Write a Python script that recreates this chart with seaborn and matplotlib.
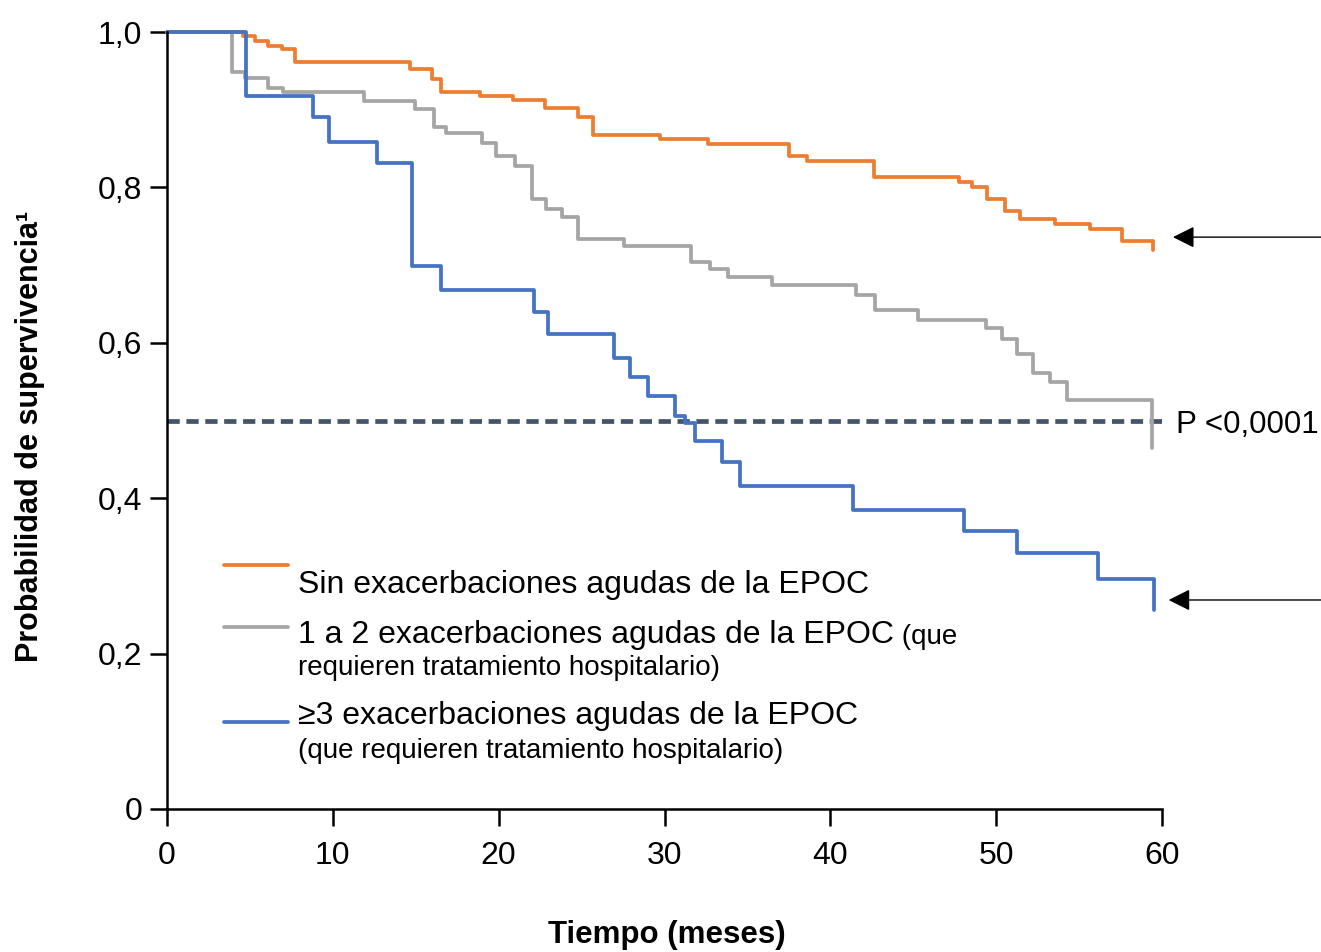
import matplotlib
matplotlib.use("Agg")
import matplotlib.pyplot as plt
import numpy as np
import pandas as pd
import seaborn as sns

# Kaplan-Meier steps (meses, probabilidad tras el salto)
t_sin = [0, 4.58, 5.31, 6.07, 6.92, 7.72, 14.65, 15.96, 16.52, 18.87, 20.85, 22.79,
         24.77, 25.67, 29.73, 32.64, 37.53, 38.58, 42.63, 47.76, 48.56, 49.47,
         50.53, 51.44, 53.55, 55.66, 57.57, 59.48]
v_sin = [1.0, 0.995, 0.988, 0.982, 0.978, 0.962, 0.953, 0.940, 0.923, 0.918, 0.912, 0.902,
         0.891, 0.868, 0.862, 0.856, 0.840, 0.834, 0.813, 0.807, 0.801, 0.785,
         0.769, 0.759, 0.753, 0.746, 0.731, 0.720]

t_1a2 = [0, 3.90, 4.70, 6.11, 6.98, 11.88, 14.96, 16.12, 16.82, 19.01, 19.82, 20.99,
         21.99, 22.84, 23.80, 24.77, 27.58, 31.60, 32.74, 33.81, 36.48, 41.55,
         42.69, 45.27, 49.39, 50.33, 51.24, 52.24, 53.25, 54.25, 59.38]
v_1a2 = [1.0, 0.948, 0.941, 0.928, 0.923, 0.911, 0.901, 0.878, 0.870, 0.857, 0.840, 0.828,
         0.785, 0.772, 0.762, 0.733, 0.724, 0.704, 0.695, 0.685, 0.674, 0.662,
         0.642, 0.629, 0.619, 0.605, 0.585, 0.561, 0.550, 0.527, 0.465]

t_3mas = [0, 4.76, 8.82, 9.77, 12.68, 14.76, 16.52, 22.15, 22.96, 26.97, 27.92, 29.02,
          30.63, 31.24, 31.81, 33.45, 34.55, 41.35, 48.08, 51.24, 56.12, 59.54]
v_3mas = [1.0, 0.917, 0.891, 0.858, 0.832, 0.699, 0.668, 0.639, 0.611, 0.580, 0.556, 0.531,
          0.506, 0.497, 0.473, 0.446, 0.416, 0.385, 0.358, 0.330, 0.296, 0.256]

grupos = ["sin", "1a2", "3mas"]
colores = {"sin": "#ED7D31", "1a2": "#A5A5A5", "3mas": "#4472C4"}

y_ticks = [0, 0.2, 0.4, 0.6, 0.8, 1.0]
y_ticklabels = ["0", "0,2", "0,4", "0,6", "0,8", "1,0"]
x_ticks = [0, 10, 20, 30, 40, 50, 60]

mediana = 0.5
fin_linea = 60.35
p_texto = "P <0,0001"
p_pos = (60.85, 0.494)
flecha_sin = 0.736
flecha_3mas = 0.269

df = pd.concat([
    pd.DataFrame({"t": t_sin, "v": v_sin, "grupo": "sin"}),
    pd.DataFrame({"t": t_1a2, "v": v_1a2, "grupo": "1a2"}),
    pd.DataFrame({"t": t_3mas, "v": v_3mas, "grupo": "3mas"}),
])

sns.set_style("ticks")
plt.rcParams["font.family"] = ["Liberation Sans", "DejaVu Sans"]
plt.rcParams["text.color"] = "black"
plt.rcParams["axes.labelcolor"] = "black"
plt.rcParams["xtick.color"] = "black"
plt.rcParams["ytick.color"] = "black"

W, H = 1321, 952
fig = plt.figure(figsize=(W / 100, H / 100), dpi=100)
ax = fig.add_axes([167 / W, (H - 809) / H, (1162 - 167) / W, (809 - 32) / H])

ax.hlines(mediana, 0, fin_linea, colors="#44546A", linewidth=3.4,
          linestyles=(0, (2.6, 1.4)), zorder=1.5, clip_on=False)

sns.lineplot(data=df, x="t", y="v", hue="grupo", hue_order=["1a2", "sin", "3mas"],
             palette=colores, estimator=None, sort=False, drawstyle="steps-post",
             linewidth=2.7, legend=False, ax=ax, zorder=2, clip_on=False)

ax.set_xlim(0, 60)
ax.set_ylim(0, 1)
ax.set_xticks(x_ticks)
ax.set_yticks(y_ticks)
ax.set_yticklabels(y_ticklabels)
ax.set_xlabel("")
ax.set_ylabel("")
sns.despine(ax=ax)
for s in ["left", "bottom"]:
    ax.spines[s].set_linewidth(1.8)
    ax.spines[s].set_color("black")
ax.tick_params(axis="both", length=12, width=1.8, color="black", labelcolor="black",
               labelsize=23)
ax.tick_params(axis="y", pad=6)
ax.tick_params(axis="x", pad=11)

fig.text(30 / W, 1 - 436 / H, "Probabilidad de supervivencia¹", rotation=90,
         ha="center", va="center", fontsize=22, fontweight="bold")
fig.text(667 / W, 1 - 935 / H, "Tiempo (meses)", ha="center", va="center",
         fontsize=22.5, fontweight="bold")

ax.text(p_pos[0], p_pos[1], p_texto, fontsize=22.5, ha="left", va="center", clip_on=False)

flecha = dict(arrowstyle="-|>,head_length=0.6,head_width=0.3", color="black",
              lw=1, mutation_scale=22, shrinkA=0, shrinkB=0)
ax.annotate("", xy=(60.66, flecha_sin), xytext=(69.7, flecha_sin),
            arrowprops=flecha, annotation_clip=False)
ax.annotate("", xy=(60.4, flecha_3mas), xytext=(69.7, flecha_3mas),
            arrowprops=flecha, annotation_clip=False)

# leyenda dibujada a mano: linea encima del texto
def ax_pos(px, py):
    return (px - 167) / 995, (809 - py) / 777

x0, _ = ax_pos(224, 0)
x1, _ = ax_pos(288, 0)
xt, _ = ax_pos(298, 0)
for g, py in [("sin", 565), ("1a2", 627), ("3mas", 722)]:
    _, yy = ax_pos(0, py)
    ax.plot([x0, x1], [yy, yy], color=colores[g], linewidth=2.7,
            transform=ax.transAxes, clip_on=False)

grande, chico = 23, 20
ax.text(xt, ax_pos(0, 593)[1], "Sin exacerbaciones agudas de la EPOC",
        transform=ax.transAxes, fontsize=grande, va="baseline")
t1 = ax.text(xt, ax_pos(0, 643)[1], "1 a 2 exacerbaciones agudas de la EPOC",
             transform=ax.transAxes, fontsize=grande, va="baseline")
ax.annotate(" (que", xy=(1, 0), xycoords=t1, fontsize=chico, va="bottom", ha="left")
ax.text(xt, ax_pos(0, 675)[1], "requieren tratamiento hospitalario)",
        transform=ax.transAxes, fontsize=chico, va="baseline")
ax.text(xt, ax_pos(0, 724)[1], "≥3 exacerbaciones agudas de la EPOC",
        transform=ax.transAxes, fontsize=grande, va="baseline")
ax.text(xt, ax_pos(0, 758)[1], "(que requieren tratamiento hospitalario)",
        transform=ax.transAxes, fontsize=chico, va="baseline")

fig.savefig("out.png", dpi=100)
